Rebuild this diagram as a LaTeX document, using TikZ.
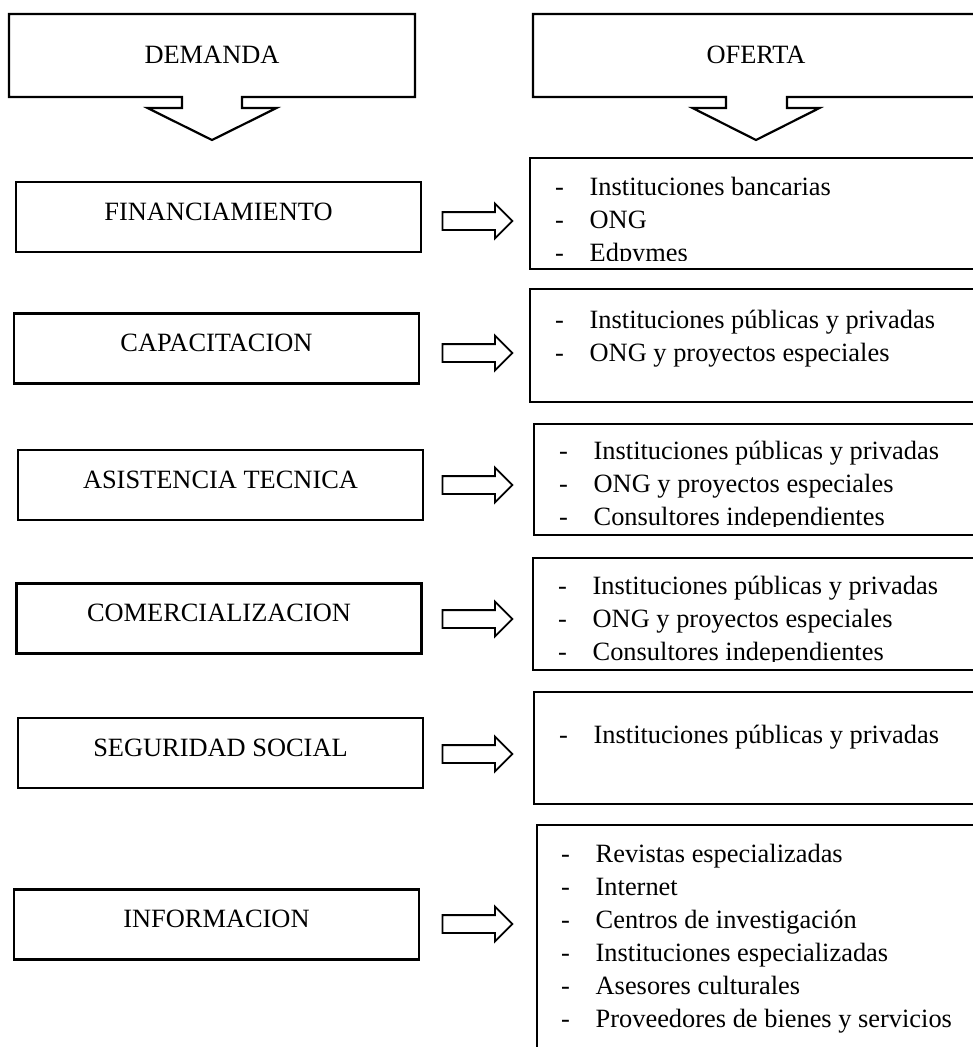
\documentclass[tikz,border=0pt]{standalone}
\usepackage{fontspec}
\setmainfont{Liberation Serif}
\usetikzlibrary{shapes.arrows,calc}

\begin{document}
\begin{tikzpicture}[x=1pt, y=-1pt,
  font=\fontsize{26.4}{33}\selectfont,
  caja/.style={draw, line width=2.2pt, minimum width=405pt, minimum height=70pt, inner sep=0pt, text height=18pt, text depth=12pt},
  lista/.style={draw, line width=2.2pt, anchor=north west, minimum width=460pt, inner sep=0pt},
  item/.style={anchor=base west, inner sep=0pt},
  flecha/.style={single arrow, draw, line width=1.8pt, minimum height=70pt, single arrow head extend=8.5pt, inner sep=0pt, text height=8pt, text depth=8pt}]

% Page size
\useasboundingbox (0,0) rectangle (973,1047);
\clip (0,0) rectangle (973,1047);

% Heads with arrow down
\draw[line width=2.2pt] (9,14) -- (415,14) -- (415,97) -- (242,97) -- (242,108) -- (276.5,108) -- (212,140) -- (147.5,108) -- (182,108) -- (182,97) -- (9,97) -- cycle;
\node (dem) at (212,55) {DEMANDA};
\draw[line width=2.2pt] (533,14) -- (990,14) -- (990,97) -- (787,97) -- (787,108) -- (819.5,108) -- (756,140) -- (692.5,108) -- (726,108) -- (726,97) -- (533,97) -- cycle;
\node (ofe) at (756,55) {OFERTA};

% Demand boxes
\node[caja] (fin) at (218.5,217) {FINANCIAMIENTO};
\node[caja] (cap) at (216.5,348.5) {CAPACITACION};
\node[caja] (asi) at (220.5,485) {ASISTENCIA TECNICA};
\node[caja] (com) at (219,618.5) {COMERCIALIZACION};
\node[caja] (seg) at (220.5,753) {SEGURIDAD SOCIAL};
\node[caja] (inf) at (216.5,924.5) {INFORMACION};

% Block arrows
\node[flecha] (a1) at (473,221) {};
\node[flecha] (a2) at (473,353) {};
\node[flecha] (a3) at (473,485) {};
\node[flecha] (a4) at (473,619) {};
\node[flecha] (a5) at (473,754) {};
\node[flecha] (a6) at (473,924) {};

% Offer boxes
\node[lista, minimum height=111pt] (o1) at (529,157) {};
\begin{scope}
\clip (o1.north west) rectangle ($(o1.south east)+(0,-10)$);
\node[item] (o1a) at (555,195) {\makebox[34.5pt][l]{-}Instituciones bancarias};
\node[item] (o1b) at (555,228) {\makebox[34.5pt][l]{-}ONG};
\node[item] (o1c) at (555,261) {\makebox[34.5pt][l]{-}Edpymes};
\end{scope}

\node[lista, minimum height=113pt] (o2) at (529,288) {};
\node[item] (o2a) at (555,328) {\makebox[34.5pt][l]{-}Instituciones públicas y privadas};
\node[item] (o2b) at (555,361) {\makebox[34.5pt][l]{-}ONG y proyectos especiales};

\node[lista, minimum height=111pt] (o3) at (533,423) {};
\begin{scope}
\clip (o3.north west) rectangle ($(o3.south east)+(0,-10)$);
\node[item] (o3a) at (559,459) {\makebox[34.5pt][l]{-}Instituciones públicas y privadas};
\node[item] (o3b) at (559,492) {\makebox[34.5pt][l]{-}ONG y proyectos especiales};
\node[item] (o3c) at (559,525) {\makebox[34.5pt][l]{-}Consultores independientes};
\end{scope}

\node[lista, minimum height=112pt] (o4) at (532,557) {};
\begin{scope}
\clip (o4.north west) rectangle ($(o4.south east)+(0,-10)$);
\node[item] (o4a) at (558,594) {\makebox[34.5pt][l]{-}Instituciones públicas y privadas};
\node[item] (o4b) at (558,627) {\makebox[34.5pt][l]{-}ONG y proyectos especiales};
\node[item] (o4c) at (558,660) {\makebox[34.5pt][l]{-}Consultores independientes};
\end{scope}

\node[lista, minimum height=112pt] (o5) at (533,691) {};
\node[item] (o5a) at (559,743) {\makebox[34.5pt][l]{-}Instituciones públicas y privadas};

\node[lista, minimum height=236pt] (o6) at (536,824) {};
\node[item] (o6a) at (561,862) {\makebox[34.5pt][l]{-}Revistas especializadas};
\node[item] (o6b) at (561,895) {\makebox[34.5pt][l]{-}Internet};
\node[item] (o6c) at (561,928) {\makebox[34.5pt][l]{-}Centros de investigación};
\node[item] (o6d) at (561,961) {\makebox[34.5pt][l]{-}Instituciones especializadas};
\node[item] (o6e) at (561,994) {\makebox[34.5pt][l]{-}Asesores culturales};
\node[item] (o6f) at (561,1027) {\makebox[34.5pt][l]{-}Proveedores de bienes y servicios};
\end{tikzpicture}
\end{document}
